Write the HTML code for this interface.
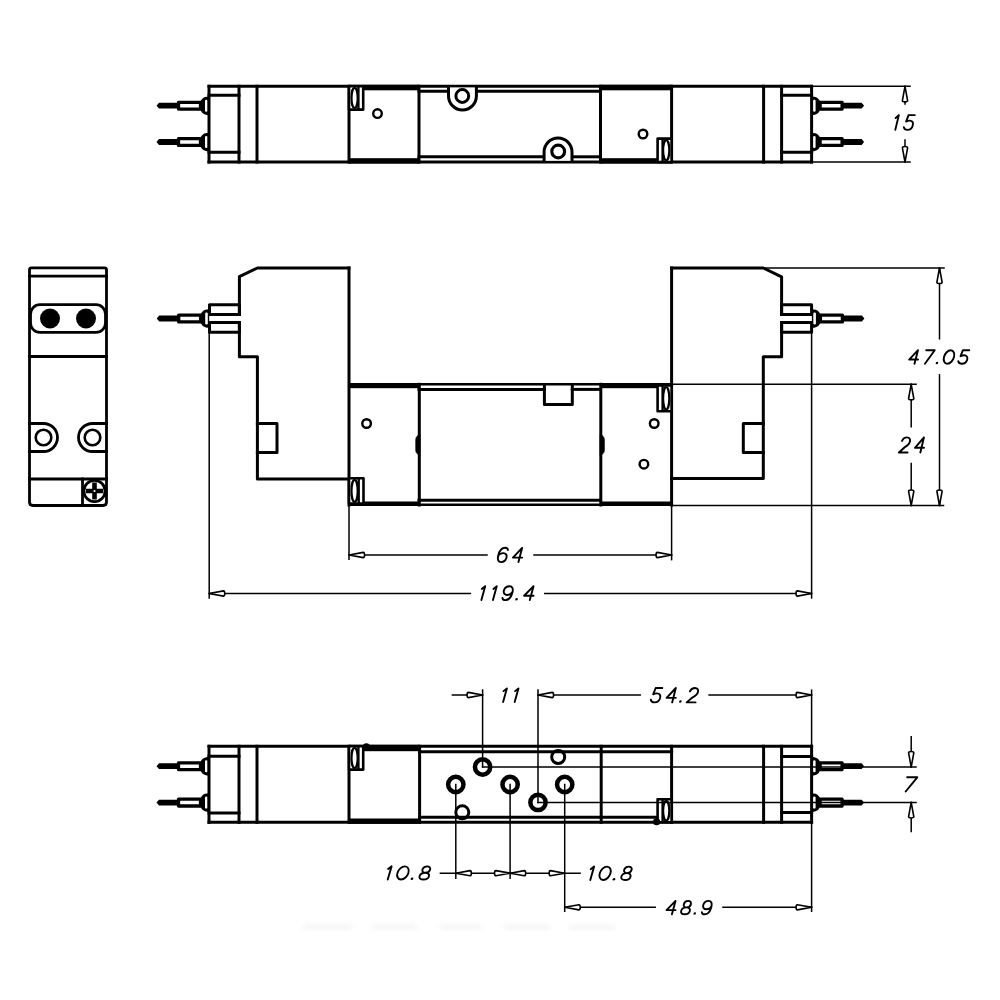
<!DOCTYPE html>
<html><head><meta charset="utf-8"><style>
html,body{margin:0;padding:0;background:#fff;}
svg{display:block;}
</style></head><body>
<svg width="1000" height="1000" viewBox="0 0 1000 1000" stroke="#000" fill="none" stroke-linecap="square" stroke-linejoin="round">
<defs><filter id="blur" x="-20%" y="-200%" width="140%" height="500%"><feGaussianBlur stdDeviation="2.5"/></filter></defs>
<g filter="url(#blur)" fill="#f6f6f6" stroke="none"><rect x="303" y="924" width="49" height="6" rx="3"/><rect x="371" y="924" width="46" height="6" rx="3"/><rect x="440" y="924" width="42" height="6" rx="3"/><rect x="504" y="924" width="46" height="6" rx="3"/><rect x="569" y="924" width="46" height="6" rx="3"/></g>
<path d="M156.5,105.7 L159,102.8 L179,102.8 L179,108.60000000000001 L159,108.60000000000001 Z" fill="#000" stroke="none"/>
<rect x="178.5" y="102.3" width="22.00" height="6.8" stroke-width="3.3" fill="#fff"/>
<path d="M209,96.4 C203,96.4 199.8,99.7 199.8,105.7 C199.8,111.7 203,115.0 209,115.0 Z" fill="#000" stroke="none"/>
<rect x="205.0" y="99.7" width="2.60" height="12" rx="1.2" fill="#fff" stroke="none"/>
<path d="M864.1,105.7 L861.6,102.8 L841.6,102.8 L841.6,108.60000000000001 L861.6,108.60000000000001 Z" fill="#000" stroke="none"/>
<rect x="820.1" y="102.3" width="22.00" height="6.8" stroke-width="3.3" fill="#fff"/>
<path d="M811.6,96.4 C817.6,96.4 820.8,99.7 820.8,105.7 C820.8,111.7 817.6,115.0 811.6,115.0 Z" fill="#000" stroke="none"/>
<rect x="813.0" y="99.7" width="2.60" height="12" rx="1.2" fill="#fff" stroke="none"/>
<path d="M156.5,142 L159,139.1 L179,139.1 L179,144.9 L159,144.9 Z" fill="#000" stroke="none"/>
<rect x="178.5" y="138.6" width="22.00" height="6.8" stroke-width="3.3" fill="#fff"/>
<path d="M209,132.7 C203,132.7 199.8,136 199.8,142 C199.8,148 203,151.3 209,151.3 Z" fill="#000" stroke="none"/>
<rect x="205.0" y="136" width="2.60" height="12" rx="1.2" fill="#fff" stroke="none"/>
<path d="M864.1,142 L861.6,139.1 L841.6,139.1 L841.6,144.9 L861.6,144.9 Z" fill="#000" stroke="none"/>
<rect x="820.1" y="138.6" width="22.00" height="6.8" stroke-width="3.3" fill="#fff"/>
<path d="M811.6,132.7 C817.6,132.7 820.8,136 820.8,142 C820.8,148 817.6,151.3 811.6,151.3 Z" fill="#000" stroke="none"/>
<rect x="813.0" y="136" width="2.60" height="12" rx="1.2" fill="#fff" stroke="none"/>
<line x1="209" y1="86.3" x2="811.6" y2="86.3" stroke-width="3.0"/>
<line x1="209" y1="162" x2="811.6" y2="162" stroke-width="3.0"/>
<line x1="209" y1="86.3" x2="209" y2="162" stroke-width="3.0"/>
<line x1="239" y1="86.3" x2="239" y2="162" stroke-width="3.0"/>
<line x1="257" y1="86.3" x2="257" y2="162" stroke-width="3.0"/>
<line x1="349" y1="86.3" x2="349" y2="162" stroke-width="3.0"/>
<line x1="419" y1="86.3" x2="419" y2="162" stroke-width="3.0"/>
<line x1="600.5" y1="86.3" x2="600.5" y2="162" stroke-width="3.0"/>
<line x1="671.6" y1="86.3" x2="671.6" y2="162" stroke-width="3.0"/>
<line x1="763.6" y1="86.3" x2="763.6" y2="162" stroke-width="3.0"/>
<line x1="781.6" y1="86.3" x2="781.6" y2="162" stroke-width="3.0"/>
<line x1="811.6" y1="86.3" x2="811.6" y2="162" stroke-width="3.0"/>
<line x1="209" y1="95.2" x2="239" y2="95.2" stroke-width="3.0"/>
<line x1="209" y1="152.3" x2="239" y2="152.3" stroke-width="3.0"/>
<line x1="781.6" y1="95.2" x2="811.6" y2="95.2" stroke-width="3.0"/>
<line x1="781.6" y1="152.3" x2="811.6" y2="152.3" stroke-width="3.0"/>
<rect x="349" y="84.8" width="70.00" height="5.50" fill="#000" stroke="none"/>
<rect x="349" y="158.2" width="70.00" height="5.30" fill="#000" stroke="none"/>
<rect x="600.5" y="84.8" width="71.10" height="5.50" fill="#000" stroke="none"/>
<rect x="600.5" y="158.2" width="71.10" height="5.30" fill="#000" stroke="none"/>
<line x1="419" y1="91.2" x2="448.5" y2="91.2" stroke-width="3.0"/>
<line x1="476.4" y1="91.2" x2="600.5" y2="91.2" stroke-width="3.0"/>
<line x1="419" y1="156.8" x2="544.1" y2="156.8" stroke-width="3.0"/>
<line x1="572" y1="156.8" x2="600.5" y2="156.8" stroke-width="3.0"/>
<path d="M448.5,87.5 V96 A13.95,13.95 0 0 0 476.4,96 V87.5" stroke-width="3.0" fill="#fff" />
<circle cx="462.3" cy="96" r="6.4" stroke-width="3.0" fill="none"/>
<path d="M544.1,160.8 V152 A13.95,13.95 0 0 1 572,152 V160.8" stroke-width="3.0" fill="#fff" />
<circle cx="558.2" cy="151.5" r="6.4" stroke-width="3.1" fill="none"/>
<circle cx="377.5" cy="113.6" r="4.3" stroke-width="2.4" fill="none"/>
<circle cx="643" cy="134" r="4.3" stroke-width="2.4" fill="none"/>
<rect x="349" y="86.3" width="14.199999999999989" height="23.299999999999997" stroke-width="2.6" fill="#fff"/>
<ellipse cx="354.60" cy="97.95" rx="3.1" ry="10.05" stroke-width="2.2" fill="none"/>
<line x1="358.4" y1="87.3" x2="358.4" y2="108.6" stroke-width="2.4"/>
<rect x="657.6" y="138.6" width="14.0" height="23.400000000000006" stroke-width="2.6" fill="#fff"/>
<ellipse cx="666.20" cy="150.30" rx="3.1" ry="10.10" stroke-width="2.2" fill="none"/>
<line x1="662.6" y1="139.6" x2="662.6" y2="161" stroke-width="2.4"/>
<line x1="811.6" y1="86.3" x2="910" y2="86.3" stroke-width="1.5"/>
<line x1="811.6" y1="162" x2="910" y2="162" stroke-width="1.5"/>
<line x1="905" y1="86.3" x2="905" y2="104" stroke-width="1.5"/>
<line x1="905" y1="140" x2="905" y2="162" stroke-width="1.5"/>
<path d="M905,86.3 L907.60,100.50 C907.60,102.30 902.40,102.30 902.40,100.50 Z" stroke-width="1.6" fill="#fff" stroke-linejoin="round"/>
<path d="M905,162 L902.40,147.80 C902.40,146.00 907.60,146.00 907.60,147.80 Z" stroke-width="1.6" fill="#fff" stroke-linejoin="round"/>
<g transform="translate(892.24,129.88) scale(0.9492,1.0545)" stroke-width="1.9" stroke-linecap="round" stroke-linejoin="round" fill="none"><g transform="skewX(-15)"><path transform="translate(0.00,0)" d="M0.6,-11.2 L3.2,-14.0 V0" vector-effect="non-scaling-stroke"/><path transform="translate(11.50,0)" d="M8.6,-14.0 H1.9 L1,-7.8 C2,-8.5 3.3,-8.8 4.6,-8.8 C7.2,-8.8 9,-7 9,-4.4 C9,-1.7 7.1,0 4.5,0 C2.3,0 0.8,-0.9 0,-2.6" vector-effect="non-scaling-stroke"/></g></g>
<path d="M29.5,502 V269.8 Q29.5,267.8 31.5,267.8 H104.5 Q106.5,267.8 106.5,269.8 V502 Q106.5,505.5 103,505.5 H33 Q29.5,505.5 29.5,502 Z" stroke-width="2.8" fill="none" />
<line x1="29.5" y1="276.2" x2="106.5" y2="276.2" stroke-width="2.8"/>
<rect x="30.5" y="304.7" width="75" height="27.7" rx="9.5" stroke-width="2.8" fill="none"/>
<circle cx="50" cy="318.5" r="10" stroke-width="0" fill="#000"/>
<circle cx="86" cy="318.5" r="10" stroke-width="0" fill="#000"/>
<line x1="29.5" y1="356.5" x2="106.5" y2="356.5" stroke-width="2.8"/>
<path d="M29.5,423.5 H43.5 A14,14 0 0 1 43.5,451.5 H29.5" stroke-width="2.8" fill="none" />
<path d="M106.5,423.5 H92.5 A14,14 0 0 0 92.5,451.5 H106.5" stroke-width="2.8" fill="none" />
<circle cx="43.5" cy="437.5" r="7.8" stroke-width="2.6" fill="none"/>
<circle cx="92.5" cy="437.5" r="7.8" stroke-width="2.6" fill="none"/>
<line x1="29.5" y1="479" x2="106.5" y2="479" stroke-width="2.8"/>
<line x1="82.5" y1="479" x2="82.5" y2="505.5" stroke-width="2.8"/>
<circle cx="94.5" cy="491" r="10.6" stroke-width="2.8" fill="none"/>
<path d="M92.2,482.5 H96.8 V488.7 H103 V493.3 H96.8 V499.5 H92.2 V493.3 H86 V488.7 H92.2 Z" stroke-width="0" fill="#000" stroke="none"/>
<circle cx="94.5" cy="491" r="1.1" stroke-width="0" fill="#fff"/>
<path d="M156.7,318.5 L159.2,315.6 L179.2,315.6 L179.2,321.4 L159.2,321.4 Z" fill="#000" stroke="none"/>
<rect x="178.7" y="315.1" width="22.00" height="6.8" stroke-width="3.3" fill="#fff"/>
<path d="M209.2,309.2 C203.2,309.2 200.0,312.5 200.0,318.5 C200.0,324.5 203.2,327.8 209.2,327.8 Z" fill="#000" stroke="none"/>
<rect x="205.2" y="312.5" width="2.60" height="12" rx="1.2" fill="#fff" stroke="none"/>
<path d="M864.4,318.5 L861.9,315.6 L841.9,315.6 L841.9,321.4 L861.9,321.4 Z" fill="#000" stroke="none"/>
<rect x="820.4" y="315.1" width="22.00" height="6.8" stroke-width="3.3" fill="#fff"/>
<path d="M811.9,309.2 C817.9,309.2 821.1,312.5 821.1,318.5 C821.1,324.5 817.9,327.8 811.9,327.8 Z" fill="#000" stroke="none"/>
<rect x="813.3" y="312.5" width="2.60" height="12" rx="1.2" fill="#fff" stroke="none"/>
<path d="M349,268 H257.4 L239.4,276.6 V314.6 M239.4,322.4 V356.7 H257.4 V478.9 H349" stroke-width="3.0" fill="none" />
<path d="M239.4,314.6 H209.5 V304.7 H239.4 V314.6" stroke-width="3.0" fill="none" />
<path d="M239.4,322.4 H209.5 V332.3 H239.4 V322.4" stroke-width="3.0" fill="none" />
<path d="M257.4,423.5 H277 V452.5 H257.4" stroke-width="3.0" fill="none" />
<path d="M671.6,268 H763.3 L781.6,276.8 V314.6 M781.6,322.4 V356.7 H763.3 V478.5 H671.6" stroke-width="3.0" fill="none" />
<path d="M781.6,314.6 H811.6 V304.7 H781.6 V314.6" stroke-width="3.0" fill="none" />
<path d="M781.6,322.4 H811.6 V332.3 H781.6 V322.4" stroke-width="3.0" fill="none" />
<path d="M763.3,423.5 H743.3 V452.5 H763.3" stroke-width="3.0" fill="none" />
<line x1="349" y1="268" x2="349" y2="505" stroke-width="3.0"/>
<line x1="671.6" y1="268" x2="671.6" y2="505" stroke-width="3.0"/>
<rect x="349" y="383" width="70.00" height="5.20" fill="#000" stroke="none"/>
<rect x="600.5" y="383" width="71.10" height="5.20" fill="#000" stroke="none"/>
<rect x="349" y="501.5" width="70.00" height="4.50" fill="#000" stroke="none"/>
<rect x="600.5" y="501.5" width="71.10" height="4.50" fill="#000" stroke="none"/>
<line x1="419" y1="384.3" x2="600.5" y2="384.3" stroke-width="2.6"/>
<line x1="419" y1="504.8" x2="600.5" y2="504.8" stroke-width="2.6"/>
<line x1="419" y1="389.4" x2="544.4" y2="389.4" stroke-width="3.0"/>
<line x1="572.3" y1="389.4" x2="600.5" y2="389.4" stroke-width="3.0"/>
<line x1="419" y1="500.2" x2="600.5" y2="500.2" stroke-width="3.0"/>
<line x1="419.3" y1="384.3" x2="419.3" y2="505" stroke-width="3.0"/>
<line x1="600.8" y1="384.3" x2="600.8" y2="505" stroke-width="3.0"/>
<path d="M544.4,385.5 V404.6 H572.3 V385.5" stroke-width="3.0" fill="none" />
<path d="M419.5,434.2 C417.5,435.8 415.8,437 415.8,439.5 V450.5 C415.8,453 417.5,454 419.5,455.4 Z" fill="#000" stroke-width="0.8"/>
<path d="M600.6,434.2 C602.6,435.8 604.3,437 604.3,439.5 V450.5 C604.3,453 602.6,454 600.6,455.4 Z" fill="#000" stroke-width="0.8"/>
<circle cx="366.6" cy="423.5" r="4.3" stroke-width="2.4" fill="none"/>
<circle cx="654.2" cy="423.5" r="4.3" stroke-width="2.4" fill="none"/>
<circle cx="643.9" cy="464.2" r="4.3" stroke-width="2.4" fill="none"/>
<rect x="349" y="478.3" width="14.5" height="25.19999999999999" stroke-width="2.6" fill="#fff"/>
<ellipse cx="354.60" cy="490.90" rx="3.1" ry="11.00" stroke-width="2.2" fill="none"/>
<line x1="358.7" y1="479.3" x2="358.7" y2="502.5" stroke-width="2.4"/>
<rect x="657.6" y="385.5" width="14.0" height="25.69999999999999" stroke-width="2.6" fill="#fff"/>
<ellipse cx="666.20" cy="398.35" rx="3.1" ry="11.25" stroke-width="2.2" fill="none"/>
<line x1="662.6" y1="386.5" x2="662.6" y2="410.2" stroke-width="2.4"/>
<line x1="209.2" y1="332.3" x2="209.2" y2="598" stroke-width="1.5"/>
<line x1="349" y1="505" x2="349" y2="559.3" stroke-width="1.5"/>
<line x1="671.6" y1="505" x2="671.6" y2="559.6" stroke-width="1.5"/>
<line x1="811.6" y1="332.3" x2="811.6" y2="598" stroke-width="1.5"/>
<line x1="349" y1="555" x2="487" y2="555" stroke-width="1.5"/>
<line x1="534" y1="555" x2="671.6" y2="555" stroke-width="1.5"/>
<path d="M349,555 L363.20,552.40 C365.00,552.40 365.00,557.60 363.20,557.60 Z" stroke-width="1.6" fill="#fff" stroke-linejoin="round"/>
<path d="M671.6,555 L657.40,557.60 C655.60,557.60 655.60,552.40 657.40,552.40 Z" stroke-width="1.6" fill="#fff" stroke-linejoin="round"/>
<g transform="translate(496.51,562.09) scale(0.9844,1.0204)" stroke-width="1.9" stroke-linecap="round" stroke-linejoin="round" fill="none"><g transform="skewX(-15)"><path transform="translate(0.00,0)" d="M8.4,-11.9 C7.8,-13.4 6.5,-14.0 4.9,-14.0 C1.8,-14.0 0,-10.9 0,-6.3 C0,-2.4 1.8,0 4.6,0 C7.2,0 9,-1.8 9,-4.4 C9,-6.9 7.2,-8.8 4.6,-8.8 C2.3,-8.8 0.4,-7.4 0,-5.5" vector-effect="non-scaling-stroke"/><path transform="translate(15.50,0)" d="M6.8,0 V-14.0 L0,-4.4 H9.4" vector-effect="non-scaling-stroke"/></g></g>
<line x1="209.2" y1="593.5" x2="470.4" y2="593.5" stroke-width="1.5"/>
<line x1="544.8" y1="593.5" x2="811.6" y2="593.5" stroke-width="1.5"/>
<path d="M209.2,593.5 L223.40,590.90 C225.20,590.90 225.20,596.10 223.40,596.10 Z" stroke-width="1.6" fill="#fff" stroke-linejoin="round"/>
<path d="M811.6,593.5 L797.40,596.10 C795.60,596.10 795.60,590.90 797.40,590.90 Z" stroke-width="1.6" fill="#fff" stroke-linejoin="round"/>
<g transform="translate(478.18,600.10) scale(1.0057,0.9932)" stroke-width="1.9" stroke-linecap="round" stroke-linejoin="round" fill="none"><g transform="skewX(-15)"><path transform="translate(0.00,0)" d="M0.6,-11.2 L3.2,-14.0 V0" vector-effect="non-scaling-stroke"/><path transform="translate(11.50,0)" d="M0.6,-11.2 L3.2,-14.0 V0" vector-effect="non-scaling-stroke"/><path transform="translate(23.00,0)" d="M0.6,-2.1 C1.2,-0.6 2.5,0 4.1,0 C7.2,0 9,-3.1 9,-7.7 C9,-11.6 7.2,-14.0 4.4,-14.0 C1.8,-14.0 0,-12.2 0,-9.6 C0,-7.1 1.8,-5.199999999999999 4.4,-5.199999999999999 C6.7,-5.199999999999999 8.6,-6.6 9,-8.5" vector-effect="non-scaling-stroke"/><circle cx="37.90" cy="-0.9" r="1.3" fill="#000" stroke="none"/><path transform="translate(44.50,0)" d="M6.8,0 V-14.0 L0,-4.4 H9.4" vector-effect="non-scaling-stroke"/></g></g>
<line x1="763.3" y1="268" x2="944" y2="268" stroke-width="1.5"/>
<line x1="671.6" y1="384.3" x2="916" y2="384.3" stroke-width="1.5"/>
<line x1="671.6" y1="505.5" x2="943.5" y2="505.5" stroke-width="1.5"/>
<line x1="911.2" y1="384.3" x2="911.2" y2="426.8" stroke-width="1.5"/>
<line x1="911.2" y1="463.5" x2="911.2" y2="505.5" stroke-width="1.5"/>
<path d="M911.2,384.3 L913.80,398.50 C913.80,400.30 908.60,400.30 908.60,398.50 Z" stroke-width="1.6" fill="#fff" stroke-linejoin="round"/>
<path d="M911.2,505.5 L908.60,491.30 C908.60,489.50 913.80,489.50 913.80,491.30 Z" stroke-width="1.6" fill="#fff" stroke-linejoin="round"/>
<g transform="translate(898.89,452.57) scale(0.9625,1.0886)" stroke-width="1.9" stroke-linecap="round" stroke-linejoin="round" fill="none"><g transform="skewX(-15)"><path transform="translate(0.00,0)" d="M0.4,-10.7 C0.9,-13.0 2.6,-14.0 4.7,-14.0 C7.1,-14.0 8.8,-12.3 8.8,-10.1 C8.8,-7.7 7,-6.1 4.5,-4.7 L0,0 H9" vector-effect="non-scaling-stroke"/><path transform="translate(15.50,0)" d="M6.8,0 V-14.0 L0,-4.4 H9.4" vector-effect="non-scaling-stroke"/></g></g>
<line x1="939.5" y1="268" x2="939.5" y2="338.8" stroke-width="1.5"/>
<line x1="939.5" y1="374.8" x2="939.5" y2="505.5" stroke-width="1.5"/>
<path d="M939.5,268 L942.10,282.20 C942.10,284.00 936.90,284.00 936.90,282.20 Z" stroke-width="1.6" fill="#fff" stroke-linejoin="round"/>
<path d="M939.5,505.5 L936.90,491.30 C936.90,489.50 942.10,489.50 942.10,491.30 Z" stroke-width="1.6" fill="#fff" stroke-linejoin="round"/>
<g transform="translate(908.04,363.81) scale(0.9443,0.9727)" stroke-width="1.9" stroke-linecap="round" stroke-linejoin="round" fill="none"><g transform="skewX(-15)"><path transform="translate(0.00,0)" d="M6.8,0 V-14.0 L0,-4.4 H9.4" vector-effect="non-scaling-stroke"/><path transform="translate(15.50,0)" d="M0,-14.0 H9 L2.4,0" vector-effect="non-scaling-stroke"/><circle cx="30.40" cy="-0.9" r="1.3" fill="#000" stroke="none"/><path transform="translate(37.00,0)" d="M4.5,-14.0 C7.6,-14.0 9.8,-10.64 9.8,-7.0 C9.8,-3.36 7.6,0 4.5,0 C1.4,0 -0.8,-3.36 -0.8,-7.0 C-0.8,-10.64 1.4,-14.0 4.5,-14.0 Z" vector-effect="non-scaling-stroke"/><path transform="translate(52.50,0)" d="M8.6,-14.0 H1.9 L1,-7.8 C2,-8.5 3.3,-8.8 4.6,-8.8 C7.2,-8.8 9,-7 9,-4.4 C9,-1.7 7.1,0 4.5,0 C2.3,0 0.8,-0.9 0,-2.6" vector-effect="non-scaling-stroke"/></g></g>
<path d="M156.5,766.2 L159,763.3000000000001 L179,763.3000000000001 L179,769.1 L159,769.1 Z" fill="#000" stroke="none"/>
<rect x="178.5" y="762.8000000000001" width="22.00" height="6.8" stroke-width="3.3" fill="#fff"/>
<path d="M209,756.9000000000001 C203,756.9000000000001 199.8,760.2 199.8,766.2 C199.8,772.2 203,775.5 209,775.5 Z" fill="#000" stroke="none"/>
<rect x="205.0" y="760.2" width="2.60" height="12" rx="1.2" fill="#fff" stroke="none"/>
<path d="M864.1,766.2 L861.6,763.3000000000001 L841.6,763.3000000000001 L841.6,769.1 L861.6,769.1 Z" fill="#000" stroke="none"/>
<rect x="820.1" y="762.8000000000001" width="22.00" height="6.8" stroke-width="3.3" fill="#fff"/>
<path d="M811.6,756.9000000000001 C817.6,756.9000000000001 820.8,760.2 820.8,766.2 C820.8,772.2 817.6,775.5 811.6,775.5 Z" fill="#000" stroke="none"/>
<rect x="813.0" y="760.2" width="2.60" height="12" rx="1.2" fill="#fff" stroke="none"/>
<path d="M156.5,802.6 L159,799.7 L179,799.7 L179,805.5 L159,805.5 Z" fill="#000" stroke="none"/>
<rect x="178.5" y="799.2" width="22.00" height="6.8" stroke-width="3.3" fill="#fff"/>
<path d="M209,793.3000000000001 C203,793.3000000000001 199.8,796.6 199.8,802.6 C199.8,808.6 203,811.9 209,811.9 Z" fill="#000" stroke="none"/>
<rect x="205.0" y="796.6" width="2.60" height="12" rx="1.2" fill="#fff" stroke="none"/>
<path d="M864.1,802.6 L861.6,799.7 L841.6,799.7 L841.6,805.5 L861.6,805.5 Z" fill="#000" stroke="none"/>
<rect x="820.1" y="799.2" width="22.00" height="6.8" stroke-width="3.3" fill="#fff"/>
<path d="M811.6,793.3000000000001 C817.6,793.3000000000001 820.8,796.6 820.8,802.6 C820.8,808.6 817.6,811.9 811.6,811.9 Z" fill="#000" stroke="none"/>
<rect x="813.0" y="796.6" width="2.60" height="12" rx="1.2" fill="#fff" stroke="none"/>
<line x1="209" y1="746.3" x2="811.6" y2="746.3" stroke-width="3.0"/>
<line x1="209" y1="822.3" x2="811.6" y2="822.3" stroke-width="3.0"/>
<line x1="209" y1="746.3" x2="209" y2="822.3" stroke-width="3.0"/>
<line x1="239" y1="746.3" x2="239" y2="822.3" stroke-width="3.0"/>
<line x1="257" y1="746.3" x2="257" y2="822.3" stroke-width="3.0"/>
<line x1="349" y1="746.3" x2="349" y2="822.3" stroke-width="3.0"/>
<line x1="419.6" y1="746.3" x2="419.6" y2="822.3" stroke-width="3.0"/>
<line x1="601.2" y1="746.3" x2="601.2" y2="822.3" stroke-width="3.0"/>
<line x1="671.6" y1="746.3" x2="671.6" y2="822.3" stroke-width="3.0"/>
<line x1="763.6" y1="746.3" x2="763.6" y2="822.3" stroke-width="3.0"/>
<line x1="781.6" y1="746.3" x2="781.6" y2="822.3" stroke-width="3.0"/>
<line x1="811.6" y1="746.3" x2="811.6" y2="822.3" stroke-width="3.0"/>
<line x1="209" y1="756.2" x2="239" y2="756.2" stroke-width="3.0"/>
<line x1="209" y1="813" x2="239" y2="813" stroke-width="3.0"/>
<line x1="781.6" y1="756.5" x2="811.6" y2="756.5" stroke-width="3.0"/>
<line x1="781.6" y1="812.4" x2="811.6" y2="812.4" stroke-width="3.0"/>
<rect x="349" y="744.8" width="70.60" height="6.40" fill="#000" stroke="none"/>
<rect x="349" y="818.5" width="70.60" height="5.30" fill="#000" stroke="none"/>
<line x1="419.6" y1="751.7" x2="671.6" y2="751.7" stroke-width="3.0"/>
<line x1="419.6" y1="817.3" x2="657.6" y2="817.3" stroke-width="3.0"/>
<rect x="349" y="746.3" width="14.199999999999989" height="23.300000000000068" stroke-width="2.6" fill="#fff"/>
<ellipse cx="354.60" cy="757.95" rx="3.1" ry="10.05" stroke-width="2.2" fill="none"/>
<line x1="358.4" y1="747.3" x2="358.4" y2="768.6" stroke-width="2.4"/>
<rect x="657.6" y="799.3" width="14.0" height="23.0" stroke-width="2.6" fill="#fff"/>
<ellipse cx="666.20" cy="810.80" rx="3.1" ry="9.90" stroke-width="2.2" fill="none"/>
<line x1="662.6" y1="800.3" x2="662.6" y2="821.3" stroke-width="2.4"/>
<ellipse cx="366.4" cy="746.8" rx="3.6" ry="3.5" fill="#000" stroke="none"/>
<ellipse cx="656.6" cy="821.8" rx="3.6" ry="3.5" fill="#000" stroke="none"/>
<circle cx="462.3" cy="812.3" r="6.5" stroke-width="3.0" fill="none"/>
<circle cx="558.2" cy="757" r="6.5" stroke-width="3.0" fill="none"/>
<line x1="482.6" y1="690" x2="482.6" y2="767" stroke-width="1.5"/>
<line x1="538" y1="690" x2="538" y2="802.4" stroke-width="1.5"/>
<line x1="482.6" y1="767" x2="916" y2="767" stroke-width="1.5"/>
<line x1="538" y1="802.4" x2="916" y2="802.4" stroke-width="1.5"/>
<line x1="455.8" y1="784.5" x2="455.8" y2="878.3" stroke-width="1.5"/>
<line x1="510.1" y1="784.5" x2="510.1" y2="878.3" stroke-width="1.5"/>
<line x1="564.7" y1="784.5" x2="564.7" y2="911.3" stroke-width="1.5"/>
<line x1="811.6" y1="690.2" x2="811.6" y2="746.3" stroke-width="1.5"/>
<line x1="811.6" y1="822.3" x2="811.6" y2="911.3" stroke-width="1.5"/>
<circle cx="482.6" cy="767" r="7.65" stroke-width="4.5" fill="none"/>
<circle cx="455.8" cy="784.5" r="7.65" stroke-width="4.5" fill="none"/>
<circle cx="510.1" cy="784.5" r="7.65" stroke-width="4.5" fill="none"/>
<circle cx="538" cy="802.4" r="7.65" stroke-width="4.5" fill="none"/>
<circle cx="564.7" cy="784.5" r="7.65" stroke-width="4.5" fill="none"/>
<line x1="452.4" y1="695" x2="482.6" y2="695" stroke-width="1.5"/>
<path d="M482.6,695 L468.40,697.60 C466.60,697.60 466.60,692.40 468.40,692.40 Z" stroke-width="1.6" fill="#fff" stroke-linejoin="round"/>
<line x1="538" y1="695" x2="640.2" y2="695" stroke-width="1.5"/>
<line x1="709.1" y1="695" x2="811.6" y2="695" stroke-width="1.5"/>
<path d="M538,695 L552.20,692.40 C554.00,692.40 554.00,697.60 552.20,697.60 Z" stroke-width="1.6" fill="#fff" stroke-linejoin="round"/>
<path d="M811.6,695 L797.40,697.60 C795.60,697.60 795.60,692.40 797.40,692.40 Z" stroke-width="1.6" fill="#fff" stroke-linejoin="round"/>
<g transform="translate(499.88,702.01) scale(1.0064,0.9727)" stroke-width="1.9" stroke-linecap="round" stroke-linejoin="round" fill="none"><g transform="skewX(-15)"><path transform="translate(0.00,0)" d="M0.6,-11.2 L3.2,-14.0 V0" vector-effect="non-scaling-stroke"/><path transform="translate(11.50,0)" d="M0.6,-11.2 L3.2,-14.0 V0" vector-effect="non-scaling-stroke"/></g></g>
<g transform="translate(650.11,702.39) scale(0.9877,1.0273)" stroke-width="1.9" stroke-linecap="round" stroke-linejoin="round" fill="none"><g transform="skewX(-15)"><path transform="translate(0.00,0)" d="M8.6,-14.0 H1.9 L1,-7.8 C2,-8.5 3.3,-8.8 4.6,-8.8 C7.2,-8.8 9,-7 9,-4.4 C9,-1.7 7.1,0 4.5,0 C2.3,0 0.8,-0.9 0,-2.6" vector-effect="non-scaling-stroke"/><path transform="translate(15.50,0)" d="M6.8,0 V-14.0 L0,-4.4 H9.4" vector-effect="non-scaling-stroke"/><circle cx="30.40" cy="-0.9" r="1.3" fill="#000" stroke="none"/><path transform="translate(37.00,0)" d="M0.4,-10.7 C0.9,-13.0 2.6,-14.0 4.7,-14.0 C7.1,-14.0 8.8,-12.3 8.8,-10.1 C8.8,-7.7 7,-6.1 4.5,-4.7 L0,0 H9" vector-effect="non-scaling-stroke"/></g></g>
<line x1="911.2" y1="736.8" x2="911.2" y2="767" stroke-width="1.5"/>
<line x1="911.2" y1="802.4" x2="911.2" y2="831.6" stroke-width="1.5"/>
<path d="M911.2,767 L908.60,752.80 C908.60,751.00 913.80,751.00 913.80,752.80 Z" stroke-width="1.6" fill="#fff" stroke-linejoin="round"/>
<path d="M911.2,802.4 L913.80,816.60 C913.80,818.40 908.60,818.40 908.60,816.60 Z" stroke-width="1.6" fill="#fff" stroke-linejoin="round"/>
<g transform="translate(902.97,791.50) scale(1.1241,1.0136)" stroke-width="1.9" stroke-linecap="round" stroke-linejoin="round" fill="none"><g transform="skewX(-15)"><path transform="translate(0.00,0)" d="M0,-14.0 H9 L2.4,0" vector-effect="non-scaling-stroke"/></g></g>
<line x1="440.4" y1="873.2" x2="580.1" y2="873.2" stroke-width="1.5"/>
<path d="M455.8,873.2 L470.00,870.60 C471.80,870.60 471.80,875.80 470.00,875.80 Z" stroke-width="1.6" fill="#fff" stroke-linejoin="round"/>
<path d="M510.1,873.2 L495.90,875.80 C494.10,875.80 494.10,870.60 495.90,870.60 Z" stroke-width="1.6" fill="#fff" stroke-linejoin="round"/>
<path d="M510.1,873.2 L524.30,870.60 C526.10,870.60 526.10,875.80 524.30,875.80 Z" stroke-width="1.6" fill="#fff" stroke-linejoin="round"/>
<path d="M564.7,873.2 L550.50,875.80 C548.70,875.80 548.70,870.60 550.50,870.60 Z" stroke-width="1.6" fill="#fff" stroke-linejoin="round"/>
<g transform="translate(384.40,879.52) scale(1.0360,0.9387)" stroke-width="1.9" stroke-linecap="round" stroke-linejoin="round" fill="none"><g transform="skewX(-15)"><path transform="translate(0.00,0)" d="M0.6,-11.2 L3.2,-14.0 V0" vector-effect="non-scaling-stroke"/><path transform="translate(11.50,0)" d="M4.5,-14.0 C7.6,-14.0 9.8,-10.64 9.8,-7.0 C9.8,-3.36 7.6,0 4.5,0 C1.4,0 -0.8,-3.36 -0.8,-7.0 C-0.8,-10.64 1.4,-14.0 4.5,-14.0 Z" vector-effect="non-scaling-stroke"/><circle cx="26.40" cy="-0.9" r="1.3" fill="#000" stroke="none"/><path transform="translate(33.00,0)" d="M4.6,-14.0 C6.8,-14.0 8.3,-12.5 8.3,-10.6 C8.3,-8.6 6.8,-7.2 4.6,-7.2 C2.4,-7.2 0.9,-8.6 0.9,-10.6 C0.9,-12.5 2.4,-14.0 4.6,-14.0 Z M4.6,-7.2 C7.2,-7.2 9.1,-5.5 9.1,-3.5 C9.1,-1.3 7.2,0 4.6,0 C2,0 0,-1.3 0,-3.5 C0,-5.5 2,-7.2 4.6,-7.2 Z" vector-effect="non-scaling-stroke"/></g></g>
<g transform="translate(587.07,880.01) scale(1.0096,0.9591)" stroke-width="1.9" stroke-linecap="round" stroke-linejoin="round" fill="none"><g transform="skewX(-15)"><path transform="translate(0.00,0)" d="M0.6,-11.2 L3.2,-14.0 V0" vector-effect="non-scaling-stroke"/><path transform="translate(11.50,0)" d="M4.5,-14.0 C7.6,-14.0 9.8,-10.64 9.8,-7.0 C9.8,-3.36 7.6,0 4.5,0 C1.4,0 -0.8,-3.36 -0.8,-7.0 C-0.8,-10.64 1.4,-14.0 4.5,-14.0 Z" vector-effect="non-scaling-stroke"/><circle cx="26.40" cy="-0.9" r="1.3" fill="#000" stroke="none"/><path transform="translate(33.00,0)" d="M4.6,-14.0 C6.8,-14.0 8.3,-12.5 8.3,-10.6 C8.3,-8.6 6.8,-7.2 4.6,-7.2 C2.4,-7.2 0.9,-8.6 0.9,-10.6 C0.9,-12.5 2.4,-14.0 4.6,-14.0 Z M4.6,-7.2 C7.2,-7.2 9.1,-5.5 9.1,-3.5 C9.1,-1.3 7.2,0 4.6,0 C2,0 0,-1.3 0,-3.5 C0,-5.5 2,-7.2 4.6,-7.2 Z" vector-effect="non-scaling-stroke"/></g></g>
<line x1="564.7" y1="907.3" x2="655.2" y2="907.3" stroke-width="1.5"/>
<line x1="723" y1="907.3" x2="811.6" y2="907.3" stroke-width="1.5"/>
<path d="M564.7,907.3 L578.90,904.70 C580.70,904.70 580.70,909.90 578.90,909.90 Z" stroke-width="1.6" fill="#fff" stroke-linejoin="round"/>
<path d="M811.6,907.3 L797.40,909.90 C795.60,909.90 795.60,904.70 797.40,904.70 Z" stroke-width="1.6" fill="#fff" stroke-linejoin="round"/>
<g transform="translate(665.43,914.31) scale(0.9559,0.9591)" stroke-width="1.9" stroke-linecap="round" stroke-linejoin="round" fill="none"><g transform="skewX(-15)"><path transform="translate(0.00,0)" d="M6.8,0 V-14.0 L0,-4.4 H9.4" vector-effect="non-scaling-stroke"/><path transform="translate(15.50,0)" d="M4.6,-14.0 C6.8,-14.0 8.3,-12.5 8.3,-10.6 C8.3,-8.6 6.8,-7.2 4.6,-7.2 C2.4,-7.2 0.9,-8.6 0.9,-10.6 C0.9,-12.5 2.4,-14.0 4.6,-14.0 Z M4.6,-7.2 C7.2,-7.2 9.1,-5.5 9.1,-3.5 C9.1,-1.3 7.2,0 4.6,0 C2,0 0,-1.3 0,-3.5 C0,-5.5 2,-7.2 4.6,-7.2 Z" vector-effect="non-scaling-stroke"/><circle cx="30.40" cy="-0.9" r="1.3" fill="#000" stroke="none"/><path transform="translate(37.00,0)" d="M0.6,-2.1 C1.2,-0.6 2.5,0 4.1,0 C7.2,0 9,-3.1 9,-7.7 C9,-11.6 7.2,-14.0 4.4,-14.0 C1.8,-14.0 0,-12.2 0,-9.6 C0,-7.1 1.8,-5.199999999999999 4.4,-5.199999999999999 C6.7,-5.199999999999999 8.6,-6.6 9,-8.5" vector-effect="non-scaling-stroke"/></g></g>
</svg></body></html>
